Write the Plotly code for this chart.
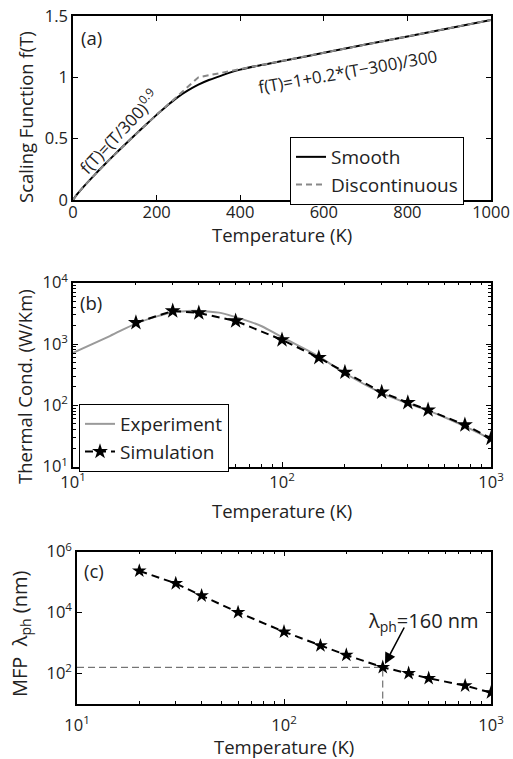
import plotly.graph_objects as go

# ---------------- data ----------------
# (a) scaling function
T_a = [0, 10, 25, 50, 75, 100, 125, 150, 175, 200, 225, 250, 275, 300, 325, 350, 375, 400, 450,
       500, 600, 700, 800, 900, 1000]
f_smooth = [0, 0.047, 0.107, 0.199, 0.287, 0.372, 0.455, 0.536, 0.616, 0.694, 0.769, 0.837, 0.893,
            0.94, 0.978, 1.008, 1.038, 1.063, 1.1, 1.133, 1.2, 1.267, 1.333, 1.4, 1.467]
T_disc = [0, 10, 25, 50, 75, 100, 125, 150, 175, 200, 225, 250, 275, 300, 400, 500, 600, 700, 800,
          900, 1000]
f_disc = [0, 0.047, 0.107, 0.199, 0.287, 0.372, 0.455, 0.536, 0.616, 0.694, 0.772, 0.849, 0.925,
          1.0, 1.067, 1.133, 1.2, 1.267, 1.333, 1.4, 1.467]

# (b) thermal conductivity
T_exp = [10, 15, 20, 25, 30, 35, 40, 50, 60, 70, 80, 100, 150, 200, 300, 400, 500, 600, 800, 1000]
k_exp = [716, 1350, 2150, 2800, 3300, 3450, 3470, 3250, 2750, 2320, 1950, 1290, 624, 334, 158, 108,
         82, 64, 41, 28]
T_sim = [20, 30, 40, 60, 100, 150, 200, 300, 400, 500, 750, 1000]
k_sim = [2230, 3460, 3210, 2380, 1170, 600, 347, 164, 111, 84, 48, 29]

# (c) mean free path
mfp_sim = [235000, 91000, 36000, 10200, 2350, 826, 404, 160, 102, 70, 40, 23.7]
guide_T = [10, 300, 300]
guide_mfp = [160, 160, 10]

log_ticks = [10, 100, 1000, 10000]
log_ticktext = ["10<sup>1</sup>", "10<sup>2</sup>", "10<sup>3</sup>", "10<sup>4</sup>"]
mfp_ticks = [100, 10000, 1000000]
mfp_ticktext = ["10<sup>2</sup>", "10<sup>4</sup>", "10<sup>6</sup>"]

W, H = 513, 759
FONT = "Open Sans"
FT = 16.5   # tick labels
FS = 18.5   # titles
FL = 19     # legends


def fx(px):
    return px / W


def fy(py):
    return 1 - py / H


fig = go.Figure()

# (a)
fig.add_trace(go.Scatter(x=T_a, y=f_smooth, mode="lines", name="Smooth",
                         line=dict(color="black", width=2, shape="spline"), xaxis="x", yaxis="y",
                         legend="legend"))
fig.add_trace(go.Scatter(x=T_disc, y=f_disc, mode="lines", name="Discontinuous",
                         line=dict(color="#888888", width=2, dash="6px,4px"), xaxis="x", yaxis="y",
                         legend="legend"))
# (b)
fig.add_trace(go.Scatter(x=T_exp, y=k_exp, mode="lines", name="Experiment",
                         line=dict(color="#9a9a9a", width=2, shape="spline"), xaxis="x2", yaxis="y2",
                         legend="legend2"))
fig.add_trace(go.Scatter(x=T_sim, y=k_sim, mode="lines+markers", name="Simulation",
                         line=dict(color="black", width=2, dash="8px,5px"),
                         marker=dict(symbol="star", size=12, color="black"),
                         xaxis="x2", yaxis="y2", legend="legend2"))
# (c)
fig.add_trace(go.Scatter(x=guide_T, y=guide_mfp, mode="lines",
                         line=dict(color="#555555", width=1, dash="7px,4px"), showlegend=False,
                         xaxis="x3", yaxis="y3"))
fig.add_trace(go.Scatter(x=T_sim, y=mfp_sim, mode="lines+markers", showlegend=False,
                         line=dict(color="black", width=2, dash="8px,5px"),
                         marker=dict(symbol="star", size=11, color="black"),
                         xaxis="x3", yaxis="y3"))

common = dict(showline=True, linecolor="black", linewidth=1.5, mirror="allticks", ticks="inside",
              ticklen=5, tickcolor="black", tickwidth=1, showgrid=False, zeroline=False,
              tickfont=dict(family=FONT, size=FT, color="#222"), automargin=False)
minor_log = dict(ticks="inside", ticklen=3, tickcolor="black", tickwidth=0.8, showgrid=False,
                 tickvals=[v * m for v in (1, 10, 100, 1000) for m in range(2, 10)])

fig.update_layout(
    width=W, height=H, margin=dict(l=0, r=0, t=0, b=0),
    paper_bgcolor="white", plot_bgcolor="white",
    font=dict(family=FONT, size=FS, color="#222"),
    xaxis=dict(common, domain=[fx(73), fx(491)], range=[0, 1000], tickvals=[0, 200, 400, 600, 800, 1000],
               anchor="y", ticklabelstandoff=-4),
    yaxis=dict(common, domain=[fy(200), fy(16)], range=[0, 1.5], tickvals=[0, 0.5, 1, 1.5],
               ticktext=["0", "0.5", "1", "1.5"], anchor="x"),
    xaxis2=dict(common, domain=[fx(73), fx(491)], type="log", range=[1, 3], tickvals=log_ticks,
                ticktext=log_ticktext, minor=minor_log, anchor="y2"),
    yaxis2=dict(common, domain=[fy(466.7), fy(282.7)], type="log", range=[1, 4], tickvals=log_ticks,
                ticktext=log_ticktext, minor=minor_log, anchor="x2"),
    xaxis3=dict(common, domain=[fx(77), fx(491)], type="log", range=[1, 3], tickvals=log_ticks,
                ticktext=log_ticktext, minor=minor_log, anchor="y3", ticklabelstandoff=5),
    yaxis3=dict(common, domain=[fy(704), fy(551.7)], type="log", range=[1, 6], tickvals=mfp_ticks,
                ticktext=mfp_ticktext, anchor="x3"),
    legend=dict(x=fx(290), y=fy(137), xanchor="left", yanchor="top", bgcolor="white",
                bordercolor="black", borderwidth=1, font=dict(family=FONT, size=FL, color="#222"),
                tracegroupgap=0),
    legend2=dict(x=fx(79), y=fy(404), xanchor="left", yanchor="top", bgcolor="white",
                 bordercolor="black", borderwidth=1, font=dict(family=FONT, size=FL, color="#222"),
                 tracegroupgap=0),
    showlegend=True,
)


def note(text, x, y, size=FS, angle=0, **kw):
    fig.add_annotation(text=text, x=fx(x), y=fy(y), xref="paper", yref="paper", showarrow=False,
                       xanchor="center", yanchor="middle", textangle=angle,
                       font=dict(family=FONT, size=size, color="#222"), **kw)


note("(a)", 91, 37)
note("(b)", 91, 302)
note("(c)", 94, 570)
note("Temperature (K)", 282, 234)
note("Temperature (K)", 282, 511)
note("Temperature (K)", 284, 746)
note("Scaling Function f(T)", 25, 117, angle=-90)
note("Thermal Cond. (W/Km)", 24, 387, angle=-90)
note("MFP  λ<sub>ph</sub> (nm)", 20, 634, size=20, angle=-90)
note("f(T)=(T/300)<sup>0.9</sup>", 118, 131, size=17, angle=-47)
note("f(T)=1+0.2*(T\u2212300)/300", 347, 71, size=17, angle=-10)
note("λ<sub>ph</sub>=160 nm", 423, 621, size=20)
fig.add_annotation(text="", x=fx(385), y=fy(664), xref="paper", yref="paper", showarrow=True,
                   ax=20, ay=-38, axref="pixel", ayref="pixel", arrowhead=2, arrowsize=1.4,
                   arrowwidth=1.6, arrowcolor="black")

fig.write_html("out.html")
